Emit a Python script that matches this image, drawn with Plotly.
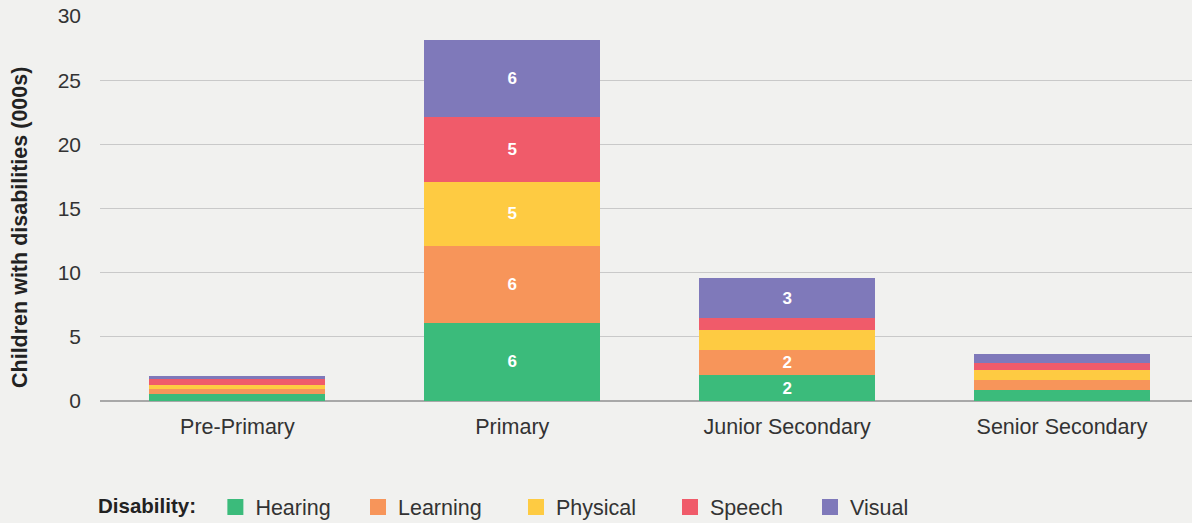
import plotly.graph_objects as go

categories = ["Pre-Primary", "Primary", "Junior Secondary", "Senior Secondary"]
series_names = ["Hearing", "Learning", "Physical", "Speech", "Visual"]
hearing = [0.55, 6.1, 2.0, 0.83]
learning = [0.39, 6.0, 2.0, 0.78]
physical = [0.31, 5.0, 1.5, 0.78]
speech = [0.44, 5.0, 1.0, 0.55]
visual = [0.26, 6.0, 3.05, 0.70]
colors = ["#3bbb7b", "#f7955a", "#fecb42", "#f05b6a", "#7f79ba"]
y_ticks = [0, 5, 10, 15, 20, 25, 30]
y_title = "Children with disabilities (000s)"

values = [hearing, learning, physical, speech, visual]
BG = "#f1f1ef"
W, H = 1192, 523
legend_names = ["legend", "legend2", "legend3", "legend4", "legend5"]
legend_left_px = [96, 358, 516, 670, 810]
legend_mid_px = 507

fig = go.Figure()
for name, vals, col, lg in zip(series_names, values, colors, legend_names):
    txt = [f"{v:.0f}" if v >= 2 else "" for v in vals]
    fig.add_trace(go.Bar(
        x=categories, y=vals, name=name, marker=dict(color=col, line=dict(width=0)),
        text=txt, textposition="inside", insidetextanchor="middle",
        textfont=dict(color="white", size=17, family="Liberation Sans"),
        texttemplate="<b>%{text}</b>", showlegend=False, hoverinfo="skip",
    ))
    fig.add_trace(go.Scatter(
        x=[None], y=[None], mode="markers", name=name, legend=lg,
        marker=dict(symbol="square", size=18, color=col), showlegend=True,
    ))

legend_common = dict(orientation="h", xref="container", yref="container", xanchor="left",
                     yanchor="middle", y=1 - legend_mid_px / H,
                     font=dict(size=21.5, color="#333333"), bgcolor="rgba(0,0,0,0)",
                     itemsizing="trace")
layout_legends = {}
for i, (lg, px) in enumerate(zip(legend_names, legend_left_px)):
    d = dict(legend_common, x=px / W)
    if i == 0:
        d["title"] = dict(text="<b>Disability:</b>  ", font=dict(size=20.5, color="#222222"))
    layout_legends[lg] = d

fig.update_layout(
    width=W, height=H,
    paper_bgcolor=BG, plot_bgcolor=BG,
    margin=dict(l=100, r=0, t=16, b=122),
    barmode="stack", bargap=0.36,
    font=dict(family="Liberation Sans", color="#333333", size=20),
    xaxis=dict(range=[-0.5, 3.473], showgrid=False, ticks="", tickfont=dict(size=21.5, color="#333333"),
               ticklabelstandoff=10, showline=False, zeroline=False, fixedrange=True),
    yaxis=dict(range=[0, 30], tickvals=y_ticks, gridcolor="#c9c9c9", gridwidth=1,
               zeroline=True, zerolinecolor="#a8a8a8", zerolinewidth=2,
               tickfont=dict(size=21, color="#333333"), ticklabelstandoff=18),
    annotations=[dict(text="<b>%s</b>" % y_title, textangle=-90, xref="paper", yref="paper",
                      x=-80 / 1092, y=(401 - 228) / 385, xanchor="center", yanchor="middle",
                      showarrow=False, font=dict(size=21.5, color="#222222"))],
    **layout_legends,
)

fig.write_html("out.html", config={"displayModeBar": False},
               post_script="document.body.style.margin='0';document.body.style.background='%s';" % BG)
